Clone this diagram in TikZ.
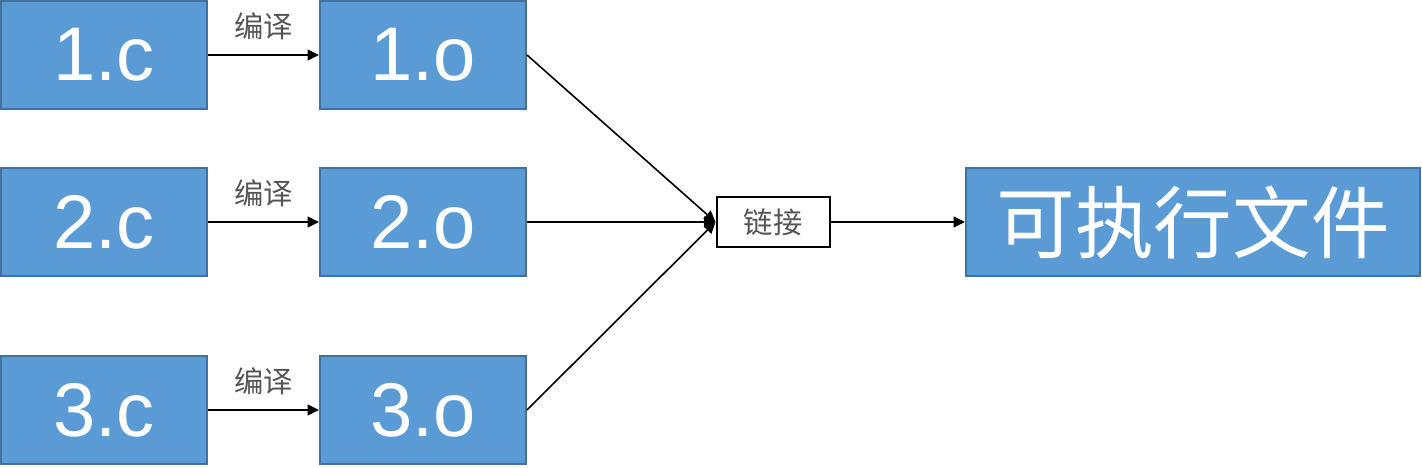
\documentclass[tikz,border=0pt]{standalone}
\usepackage{fontspec}
\setmainfont{Liberation Sans}
\newfontfamily\cjk{Noto Sans CJK SC}
\usetikzlibrary{arrows.meta}
\definecolor{boxfill}{HTML}{5B9BD5}
\definecolor{boxline}{HTML}{41719C}
\definecolor{lbl}{HTML}{555555}
\tikzset{
  filebox/.style={draw=boxline, fill=boxfill, line width=1.5pt, inner sep=0pt,
    minimum width=206*0.75pt, minimum height=108*0.75pt, text=white,
    font=\fontsize{57}{60}\selectfont},
  linkbox/.style={draw=black, fill=white, line width=1.5pt, inner sep=0pt,
    minimum width=113*0.75pt, minimum height=50*0.75pt, text=lbl,
    font=\cjk\fontsize{22}{24}\selectfont},
  exebox/.style={draw=boxline, fill=boxfill, line width=1.5pt, inner sep=0pt,
    minimum width=454*0.75pt, minimum height=108*0.75pt, text=white,
    font=\cjk\fontsize{59}{62}\selectfont},
  conn/.style={line width=1.2pt, -{Triangle[length=8.5pt,width=8pt]}},
  edgelbl/.style={text=lbl, font=\cjk\fontsize{22}{24}\selectfont, inner sep=0pt}
}
\begin{document}
\begin{tikzpicture}[x=0.75pt,y=-0.75pt]
\useasboundingbox (0,0) rectangle (1422,468);
\node[filebox] (c1) at (104,55) {1.c};
\node[filebox] (o1) at (423,55) {1.o};
\node[filebox] (c2) at (104,222) {2.c};
\node[filebox] (o2) at (423,222) {2.o};
\node[filebox] (c3) at (104,410) {3.c};
\node[filebox] (o3) at (423,410) {3.o};
\node[linkbox] (lk) at (773,222) {链接};
\node[exebox] (ex) at (1193,222) {可执行文件};
\draw[conn] (c1) -- node[edgelbl, above=11pt] {编译} (o1);
\draw[conn] (c2) -- node[edgelbl, above=11pt] {编译} (o2);
\draw[conn] (c3) -- node[edgelbl, above=11pt] {编译} (o3);
\draw[conn] (o1.east) -- (lk.west);
\draw[conn] (o2.east) -- (lk.west);
\draw[conn] (o3.east) -- (lk.west);
\draw[conn] (lk) -- (ex);
\end{tikzpicture}
\end{document}
